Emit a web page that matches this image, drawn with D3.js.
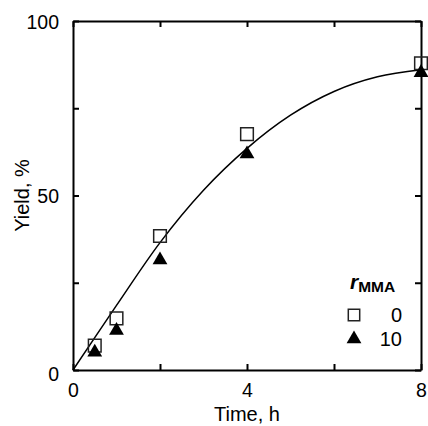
<!DOCTYPE html>
<html>
<head>
<meta charset="utf-8">
<script src="https://cdn.jsdelivr.net/npm/d3@7"></script>
<style>
  body { margin: 0; background: #fff; }
  text { font-family: "Liberation Sans", Arial, sans-serif; fill: #000; }
</style>
</head>
<body>
<div id="chart"></div>
<script>
// data
const timeH = [0.5, 1, 2, 4, 8];
const yieldR0 = [7.0, 14.8, 38.4, 67.6, 87.9];   // r_MMA = 0, open squares
const yieldR10 = [5.1, 11.3, 31.5, 61.9, 85.2];  // r_MMA = 10, filled triangles
// fitted curve
const fitT = [0, 0.5, 1, 2, 3, 4, 5, 6, 7, 8];
const fitY = [0, 9.3, 18.5, 36.5, 51.5, 63.5, 73, 79.8, 84, 86];
const xTicks = [0, 2, 4, 6, 8];
const xLabels = [0, 4, 8];
const yTicks = [0, 25, 50, 75, 100];
const yLabels = [0, 50, 100];

const width = 428, height = 426;
const margin = { top: 21, right: 7, bottom: 56, left: 73 };
const w = width - margin.left - margin.right;
const h = height - margin.top - margin.bottom;

const svg = d3.select("#chart").append("svg")
  .attr("width", width)
  .attr("height", height);
const g = svg.append("g").attr("transform", `translate(${margin.left},${margin.top})`);

const x = d3.scaleLinear().domain([0, 8]).range([0, w]);
const y = d3.scaleLinear().domain([0, 100]).range([h, 0]);

// axes, ticks pointing inward
const fmtX = d => xLabels.includes(d) ? d : "";
const fmtY = d => yLabels.includes(d) ? d : "";
const axBottom = g.append("g").attr("transform", `translate(0,${h})`)
  .call(d3.axisBottom(x).tickValues(xTicks).tickSizeInner(-6).tickSizeOuter(0).tickPadding(13).tickFormat(fmtX));
const axTop = g.append("g")
  .call(d3.axisTop(x).tickValues(xTicks).tickSizeInner(-6).tickSizeOuter(0).tickFormat(""));
const axLeft = g.append("g")
  .call(d3.axisLeft(y).tickValues(yTicks).tickSizeInner(-6).tickSizeOuter(0).tickPadding(14).tickFormat(fmtY));
const axRight = g.append("g").attr("transform", `translate(${w},0)`)
  .call(d3.axisRight(y).tickValues(yTicks).tickSizeInner(-6).tickSizeOuter(0).tickFormat(""));

[axBottom, axTop, axLeft, axRight].forEach(a => {
  a.selectAll("path").attr("stroke", "#000").attr("stroke-width", 2);
  a.selectAll("line").attr("stroke", "#000").attr("stroke-width", 2);
  a.selectAll("text").style("font-size", "19.5px").attr("font-family", null);
});
axLeft.selectAll(".tick text").attr("dy", "0.36em");
// the 0 on the y axis sits a little low
axLeft.selectAll(".tick").filter(d => d === 0).select("text").attr("dy", "0.55em");

// fitted line
const line = d3.line()
  .x((d, i) => x(fitT[i]))
  .y(d => y(d))
  .curve(d3.curveMonotoneX);
g.append("path")
  .datum(fitY)
  .attr("d", line)
  .attr("fill", "none")
  .attr("stroke", "#000")
  .attr("stroke-width", 1.5);

// markers
const sq = d3.symbol().type(d3.symbolSquare).size(160);
const tri = d3.symbol().type(d3.symbolTriangle).size(95);

g.selectAll(".r0")
  .data(timeH)
  .enter()
  .append("path")
  .attr("class", "r0")
  .attr("d", sq)
  .attr("transform", (d, i) => `translate(${x(d)},${y(yieldR0[i])})`)
  .attr("fill", "none")
  .attr("stroke", "#222")
  .attr("stroke-width", 1.5);

g.selectAll(".r10")
  .data(timeH)
  .enter()
  .append("path")
  .attr("class", "r10")
  .attr("d", tri)
  .attr("transform", (d, i) => `translate(${x(d)},${y(yieldR10[i])})`)
  .attr("fill", "#000");

// axis titles
svg.append("text")
  .attr("x", margin.left + w / 2)
  .attr("y", 421)
  .attr("text-anchor", "middle")
  .style("font-size", "20px")
  .text("Time, h");

svg.append("text")
  .attr("transform", `translate(29,${margin.top + h / 2}) rotate(-90)`)
  .attr("text-anchor", "middle")
  .style("font-size", "20px")
  .text("Yield, %");

// legend
const lg = svg.append("g");
const lt = lg.append("text").attr("x", 350).attr("y", 289);
lt.append("tspan").style("font-size", "21px").style("font-style", "italic").style("font-weight", "bold").text("r");
lt.append("tspan").attr("dy", 3).style("font-size", "15.5px").style("font-weight", "bold").text("MMA");

lg.append("path").attr("d", sq.size(130)()).attr("transform", "translate(354,315)")
  .attr("fill", "none").attr("stroke", "#222").attr("stroke-width", 1.5);
lg.append("path").attr("d", tri.size(95)()).attr("transform", "translate(354,339)")
  .attr("fill", "#000");
lg.append("text").attr("x", 402).attr("y", 315).attr("dy", "0.36em").attr("text-anchor", "end")
  .style("font-size", "20px").text("0");
lg.append("text").attr("x", 402).attr("y", 339).attr("dy", "0.36em").attr("text-anchor", "end")
  .style("font-size", "20px").text("10");
</script>
</body>
</html>
